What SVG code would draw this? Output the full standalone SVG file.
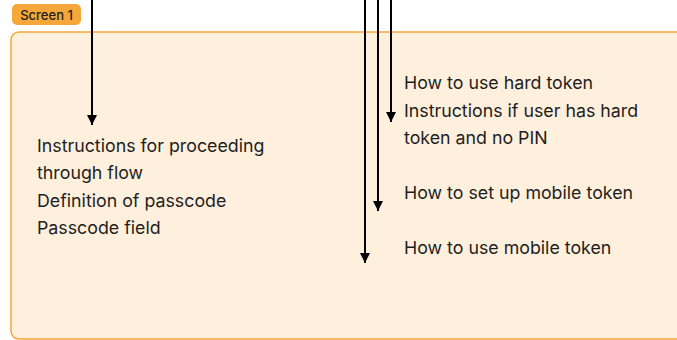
<svg xmlns="http://www.w3.org/2000/svg" width="677" height="340" viewBox="0 0 677 340">
<style>
.t{font-family:Inter,"Noto Sans",sans-serif;font-size:17.8px;font-weight:400;fill:#1e1e1e}
.b{font-family:Inter,"Noto Sans",sans-serif;font-size:13px;font-weight:500;fill:#1e1e1e}
.c{stroke:#000;stroke-width:2;fill:none}
</style>
<defs>
<marker id="ah" viewBox="0 0 10 10" refX="10" refY="5" markerWidth="10" markerHeight="10" markerUnits="userSpaceOnUse" orient="auto">
<path d="M0,0 L10,5 L0,10 Z" fill="#000"/>
</marker>
</defs>
<rect width="677" height="340" fill="#fff"/>
<g id="screen1">
<rect x="11" y="32" width="700" height="307" rx="8" fill="#FFF0DD" stroke="#F5A73A" stroke-width="1.5"/>
<rect x="12" y="4" width="69" height="21" rx="5" fill="#F5A73A"/>
<text class="b" x="46.5" y="19.5" text-anchor="middle">Screen 1</text>
</g>
<g id="left-text">
<text class="t" x="37" y="152">Instructions for proceeding</text>
<text class="t" x="37" y="179">through flow</text>
<text class="t" x="37" y="207">Definition of passcode</text>
<text class="t" x="37" y="234">Passcode field</text>
</g>
<g id="right-text">
<text class="t" x="404" y="89">How to use hard token</text>
<text class="t" x="404" y="117">Instructions if user has hard</text>
<text class="t" x="404" y="144">token and no PIN</text>
<text class="t" x="404" y="199">How to set up mobile token</text>
<text class="t" x="404" y="254">How to use mobile token</text>
</g>
<g id="connectors">
<line class="c" x1="92" y1="0" x2="92" y2="125" marker-end="url(#ah)"/>
<line class="c" x1="365" y1="0" x2="365" y2="263" marker-end="url(#ah)"/>
<line class="c" x1="378" y1="0" x2="378" y2="211" marker-end="url(#ah)"/>
<line class="c" x1="391" y1="0" x2="391" y2="122" marker-end="url(#ah)"/>
</g>
</svg>
